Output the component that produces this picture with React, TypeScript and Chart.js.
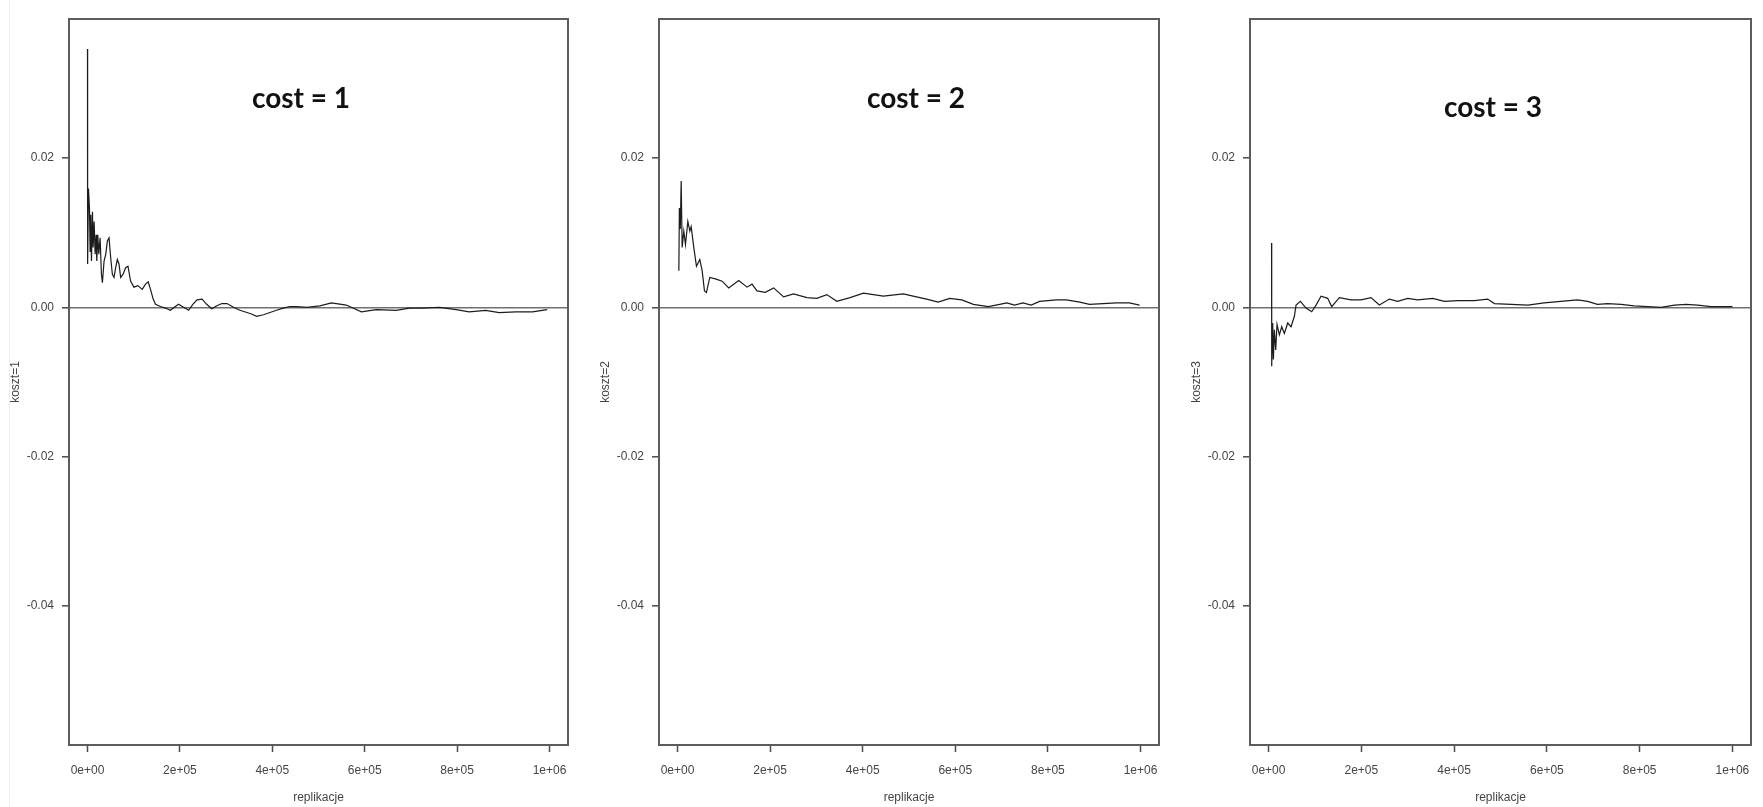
import React, { useEffect, useRef } from 'react';
import { Chart, registerables } from 'chart.js';

Chart.register(...registerables);

// ---- Data ----
const panelTitles = ['cost = 1', 'cost = 2', 'cost = 3'];
const yAxisTitles = ['koszt=1', 'koszt=2', 'koszt=3'];
const xAxisTitle = 'replikacje';

const xTickValues = [0, 200000, 400000, 600000, 800000, 1000000];
const xTickLabels = ['0e+00', '2e+05', '4e+05', '6e+05', '8e+05', '1e+06'];
const yTickValues = [-0.04, -0.02, 0, 0.02];
const yTickLabels = ['-0.04', '-0.02', '0.00', '0.02'];

const cost1Reps = [0, 300, 2150, 4300, 5700, 7200, 8600, 10800, 12200, 14400, 16500, 18700, 20100, 22300, 24400, 27300, 30200, 32300, 35900, 39500, 43100, 46700, 50300, 53900, 57400, 61000, 64600, 68200, 71800, 76800, 82600, 87600, 93300, 100500, 109100, 118500, 125600, 131400, 136400, 142200, 147200, 158000, 168700, 179500, 188000, 197000, 208000, 219000, 228000, 237000, 248000, 258000, 269000, 280000, 291000, 302000, 316000, 330000, 345000, 355000, 366000, 381000, 395000, 409000, 424000, 438000, 452000, 475000, 503000, 528000, 560000, 593000, 625000, 668000, 697000, 725000, 762000, 798000, 826000, 862000, 891000, 927000, 963000, 995000];
const cost1Values = [0.0346, 0.0058, 0.0159, 0.0133, 0.0075, 0.0124, 0.0062, 0.0128, 0.008, 0.0115, 0.0071, 0.0097, 0.0062, 0.0097, 0.0071, 0.0093, 0.0044, 0.0033, 0.0062, 0.0071, 0.0089, 0.0093, 0.0066, 0.0044, 0.004, 0.0053, 0.0064, 0.0058, 0.004, 0.0044, 0.0053, 0.0055, 0.0035, 0.0027, 0.0029, 0.0024, 0.0031, 0.0034, 0.0024, 0.0011, 0.0004, 0.0001, -0.0001, -0.0004, 0, 0.0004, 0, -0.0004, 0.0004, 0.001, 0.0011, 0.0004, -0.0002, 0.0002, 0.0005, 0.0005, 0, -0.0004, -0.0007, -0.0009, -0.0012, -0.001, -0.0007, -0.0004, -0.0001, 0.0001, 0.0001, 0, 0.0002, 0.0006, 0.0003, -0.0006, -0.0003, -0.0004, -0.0001, -0.0001, 0, -0.0003, -0.0006, -0.0004, -0.0007, -0.0006, -0.0006, -0.0003];

const cost2Reps = [2900, 4000, 6000, 7900, 10000, 13600, 17200, 22300, 26600, 29500, 35200, 40900, 48100, 53200, 58200, 62500, 69700, 81900, 96300, 110600, 132200, 150100, 160900, 171700, 189600, 207600, 229100, 250700, 279400, 301000, 322500, 344100, 372800, 401500, 444600, 487700, 509000, 538000, 563000, 588000, 614000, 639000, 671000, 696000, 711000, 728000, 746000, 764000, 782000, 818000, 840000, 869000, 890000, 919000, 948000, 976000, 998000];
const cost2Values = [0.0049, 0.0133, 0.0105, 0.0169, 0.008, 0.0102, 0.0084, 0.0115, 0.0102, 0.0108, 0.008, 0.0055, 0.0064, 0.0049, 0.0022, 0.002, 0.004, 0.0038, 0.0035, 0.0026, 0.0036, 0.0027, 0.0031, 0.0022, 0.002, 0.0026, 0.0014, 0.0018, 0.0013, 0.0012, 0.0017, 0.0008, 0.0013, 0.0019, 0.0015, 0.0018, 0.0015, 0.0011, 0.0007, 0.0012, 0.001, 0.0004, 0.0001, 0.0004, 0.0006, 0.0003, 0.0006, 0.0003, 0.0008, 0.001, 0.001, 0.0007, 0.0004, 0.0005, 0.0006, 0.0006, 0.0003];

const cost3Reps = [6500, 6800, 9000, 10400, 12600, 15400, 18300, 23300, 28400, 34100, 41300, 48500, 55700, 59300, 68600, 80800, 93000, 102400, 113100, 127500, 136100, 152600, 177800, 199300, 220900, 238800, 260400, 278300, 299900, 321500, 353800, 378900, 407700, 443600, 472300, 487000, 523000, 559000, 594000, 630000, 666000, 688000, 709000, 731000, 760000, 788000, 817000, 846000, 875000, 900000, 925000, 954000, 1000000];
const cost3Values = [0.0086, -0.0079, -0.0021, -0.007, -0.003, -0.0057, -0.0023, -0.0037, -0.0026, -0.0035, -0.0021, -0.0026, -0.0012, 0.0003, 0.0008, -0.0001, -0.0006, 0.0003, 0.0015, 0.0012, 0.0001, 0.0013, 0.001, 0.001, 0.0013, 0.0003, 0.0011, 0.0008, 0.0012, 0.001, 0.0012, 0.0008, 0.0009, 0.0009, 0.0011, 0.0005, 0.0004, 0.0003, 0.0006, 0.0008, 0.001, 0.0008, 0.0004, 0.0005, 0.0004, 0.0002, 0.0001, 0, 0.0003, 0.0004, 0.0003, 0.0001, 0.0001];

// ---- Axis ranges (R style: data range + 4%) ----
const X_MIN = -40000;
const X_MAX = 1040000;
const Y_MIN = -0.0586;
const Y_MAX = 0.0386;

// ---- Layout ----
const H = 807;
const panels = [
  { left: 0, width: 590, padRight: 22, reps: cost1Reps, vals: cost1Values, title: panelTitles[0], yTitle: yAxisTitles[0], titleDx: 232, titleY: 99 },
  { left: 590, width: 590, padRight: 21, reps: cost2Reps, vals: cost2Values, title: panelTitles[1], yTitle: yAxisTitles[1], titleDx: 257, titleY: 99 },
  { left: 1181, width: 582, padRight: 12, reps: cost3Reps, vals: cost3Values, title: panelTitles[2], yTitle: yAxisTitles[2], titleDx: 243, titleY: 108 },
];

const TEXT_FONT = "'Liberation Sans', Arial, sans-serif";
const TEXT_COLOR = '#454545';

const frameTitlePlugin = {
  id: 'frameTitle',
  afterDatasetsDraw(chart: any, _args: any, opts: any) {
    const { ctx, chartArea: a } = chart;
    ctx.save();
    ctx.strokeStyle = '#5c5c5c';
    ctx.lineWidth = 2;
    ctx.strokeRect(a.left, a.top, a.right - a.left, a.bottom - a.top);
    ctx.font = "bold 28px Lato, 'Open Sans', sans-serif";
    ctx.fillStyle = '#111';
    ctx.textAlign = 'center';
    ctx.textBaseline = 'middle';
    ctx.fillText(opts.text, a.left + opts.dx, opts.y);
    ctx.restore();
  },
};

function Panel({ cfg }: { cfg: any }) {
  const ref = useRef<HTMLCanvasElement>(null);
  useEffect(() => {
    const points = cfg.reps.map((r: number, i: number) => ({ x: r, y: cfg.vals[i] }));
    const chart = new Chart(ref.current as HTMLCanvasElement, {
      type: 'line',
      data: {
        datasets: [
          {
            data: points,
            borderColor: '#1c1c1c',
            borderWidth: 1.2,
            pointRadius: 0,
            tension: 0,
            fill: false,
          },
        ],
      },
      plugins: [frameTitlePlugin as any],
      options: {
        animation: false,
        responsive: true,
        maintainAspectRatio: false,
        layout: { padding: { left: 0, top: 19, right: cfg.padRight, bottom: 0 } },
        plugins: {
          legend: { display: false },
          tooltip: { enabled: false },
          frameTitle: { text: cfg.title, dx: cfg.titleDx, y: cfg.titleY },
        } as any,
        scales: {
          x: {
            type: 'linear',
            min: X_MIN,
            max: X_MAX,
            afterBuildTicks: (s: any) => {
              s.ticks = xTickValues.map((v) => ({ value: v }));
            },
            afterFit: (s: any) => {
              s.height = 62;
            },
            ticks: {
              autoSkip: false,
              maxRotation: 0,
              padding: 11,
              color: TEXT_COLOR,
              font: { family: TEXT_FONT, size: 12 },
              callback: (v: any) => {
                const i = xTickValues.findIndex((t) => Math.abs(t - Number(v)) < 1e-6);
                return i >= 0 ? xTickLabels[i] : '';
              },
            },
            grid: { drawOnChartArea: false, drawTicks: true, tickLength: 7, tickColor: '#4a4a4a', tickWidth: 1.5 },
            border: { display: false },
            title: {
              display: true,
              text: xAxisTitle,
              color: TEXT_COLOR,
              font: { family: TEXT_FONT, size: 12 },
              padding: { top: 0, bottom: 2 },
            },
          },
          y: {
            type: 'linear',
            min: Y_MIN,
            max: Y_MAX,
            afterBuildTicks: (s: any) => {
              s.ticks = yTickValues.map((v) => ({ value: v }));
            },
            afterFit: (s: any) => {
              s.width = 69;
            },
            ticks: {
              padding: 8,
              color: TEXT_COLOR,
              font: { family: TEXT_FONT, size: 12 },
              callback: (v: any) => {
                const i = yTickValues.findIndex((t) => Math.abs(t - Number(v)) < 1e-9);
                return i >= 0 ? yTickLabels[i] : '';
              },
            },
            grid: {
              drawOnChartArea: true,
              drawTicks: true,
              tickLength: 7,
              tickColor: '#4a4a4a',
              tickWidth: 1.5,
              color: (c: any) => (c.tick && Math.abs(c.tick.value) < 1e-9 ? '#707070' : 'rgba(0,0,0,0)'),
              lineWidth: 1.6,
            },
            border: { display: false },
            title: {
              display: true,
              text: cfg.yTitle,
              color: TEXT_COLOR,
              font: { family: TEXT_FONT, size: 12 },
              padding: { top: 8.5, bottom: 0 },
            },
          },
        },
      } as any,
    });
    return () => chart.destroy();
  }, [cfg]);
  return (
    <div style={{ position: 'absolute', left: cfg.left, top: 0, width: cfg.width, height: H }}>
      <canvas ref={ref} />
    </div>
  );
}

export default function App() {
  return (
    <div style={{ position: 'absolute', left: 0, top: 0, width: 1763, height: H, background: '#fff', overflow: 'hidden' }}>
      <div style={{ position: 'absolute', left: 9, top: 0, width: 1, height: H, background: '#ececec' }} />
      {panels.map((p, i) => (
        <Panel key={i} cfg={p} />
      ))}
    </div>
  );
}
